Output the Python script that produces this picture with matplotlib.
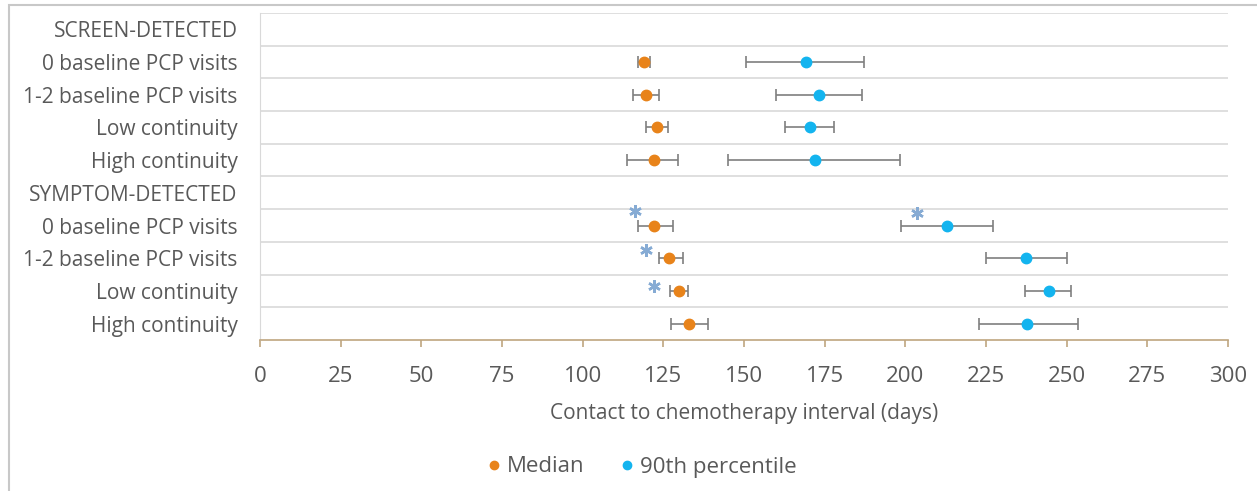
import numpy as np
import matplotlib
matplotlib.use("Agg")
from matplotlib import pyplot as plt
from matplotlib.patches import Rectangle

plt.rcParams['font.family'] = ['Open Sans', 'DejaVu Sans']

# rows, top to bottom
rows = ["SCREEN-DETECTED", "0 baseline PCP visits", "1-2 baseline PCP visits",
        "Low continuity", "High continuity", "SYMPTOM-DETECTED",
        "0 baseline PCP visits", "1-2 baseline PCP visits",
        "Low continuity", "High continuity"]

nan = np.nan
med = [nan, 118.9, 119.7, 122.9, 122.1, nan, 122.2, 126.8, 129.8, 133.0]
med_lo = [nan, 117.0, 115.5, 119.7, 113.8, nan, 117.0, 123.7, 127.2, 127.5]
med_hi = [nan, 121.0, 123.7, 126.3, 129.5, nan, 128.0, 131.2, 132.7, 138.8]

p90 = [nan, 169.3, 173.2, 170.3, 172.0, nan, 212.9, 237.4, 244.5, 237.7]
p90_lo = [nan, 150.6, 160.0, 162.7, 145.0, nan, 198.6, 224.9, 237.0, 222.9]
p90_hi = [nan, 187.3, 186.6, 178.0, 198.4, nan, 227.2, 250.0, 251.4, 253.5]

# significance asterisks
star_x = [116.1, 203.5, 119.7, 122.1]
star_y = [5.57, 5.62, 6.75, 7.85]

ticks = [0, 25, 50, 75, 100, 125, 150, 175, 200, 225, 250, 275, 300]

orange = '#e8831a'
blue = '#13b4ef'
grey = '#7f7f7f'
txt = '#595959'

fig = plt.figure(figsize=(12.57, 4.91), dpi=100)
ax = fig.add_axes([260/1257, 1-340/491, (1228-260)/1257, (340-13)/491])

y = np.arange(len(rows))
med = np.array(med); p90 = np.array(p90)
med_err = [med - np.array(med_lo), np.array(med_hi) - med]
p90_err = [p90 - np.array(p90_lo), np.array(p90_hi) - p90]

ax.errorbar(med, y, xerr=med_err, fmt='none', ecolor=grey, elinewidth=1.2,
            capsize=4, capthick=1.2, zorder=2)
ax.errorbar(p90, y, xerr=p90_err, fmt='none', ecolor=grey, elinewidth=1.2,
            capsize=4, capthick=1.2, zorder=2)
ax.plot(med, y, 'o', color=orange, ms=7.5, ls='none', zorder=3)
ax.plot(p90, y, 'o', color=blue, ms=7.5, ls='none', zorder=3)
ax.plot(star_x, star_y, ls='none', marker=(6, 2, 0), ms=9, mew=1.8,
        color='#86abd4', zorder=3)

ax.set_xlim(0, 300)
ax.set_ylim(len(rows) - 0.5, -0.5)
ax.set_xticks(ticks)
ax.set_xticklabels([str(t) for t in ticks], fontsize=16, color=txt)
ax.set_yticks(y)
ax.set_yticklabels(rows, fontsize=15, color=txt)
ax.tick_params(axis='y', length=0, pad=16)
ax.tick_params(axis='x', length=5, color='#bfa57f', width=1.2, pad=14)

for b in np.arange(-0.5, len(rows) - 0.5, 1.0):
    ax.axhline(b, color='#d9d9d9', lw=1.2, zorder=1)

for s in ['top', 'right']:
    ax.spines[s].set_visible(False)
ax.spines['left'].set_color('#d9d9d9')
ax.spines['bottom'].set_color('#bfa57f')
ax.spines['bottom'].set_linewidth(1.2)

ax.set_xlabel('Contact to chemotherapy interval (days)', fontsize=15,
              color=txt, labelpad=11)

h1, = ax.plot([], [], 'o', color=orange, ms=6)
h2, = ax.plot([], [], 'o', color=blue, ms=6)
fig.legend([h1, h2], ['Median', '90th percentile'], loc='center',
           bbox_to_anchor=(640/1257, 1-467/491), ncol=2, frameon=False,
           fontsize=16, labelcolor=txt, handletextpad=0.1, columnspacing=1.4,
           handlelength=1.0)

fig.patches.append(Rectangle((9/1257, -0.1), 1.2, 1-5/491+0.1,
                             transform=fig.transFigure, fill=False,
                             edgecolor='#c8c8c8', lw=1.5))

fig.savefig('out.png', dpi=100)
